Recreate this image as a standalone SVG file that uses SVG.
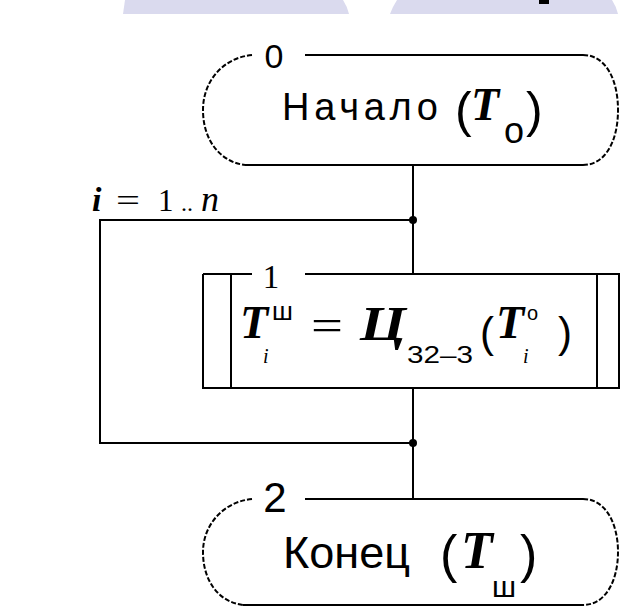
<svg xmlns="http://www.w3.org/2000/svg" width="621" height="612" viewBox="0 0 621 612">
<style>
.ln{fill:none;stroke:#000;stroke-width:2}
.arc{fill:none;stroke:#000;stroke-width:2;stroke-dasharray:5 2}
.sans{font-family:"Liberation Sans","DejaVu Sans",sans-serif;fill:#000}
.ser{font-family:"Liberation Serif","DejaVu Serif",serif;fill:#000}
.bi{font-family:"Liberation Serif","DejaVu Serif",serif;font-weight:bold;font-style:italic;fill:#000}
.it{font-family:"Liberation Serif","DejaVu Serif",serif;font-style:italic;fill:#000}
</style>
<rect width="621" height="612" fill="#fff"/>
<g id="background">
<path d="M125,0 L343,0 Q347,6 349,14 L123,14 Z" fill="#dadaee"/>
<path d="M397,0 L612,0 Q616,6 618,14 L390,14 Q393,6 397,0 Z" fill="#dadaee"/>
<rect x="539" y="0" width="10" height="4" fill="#000"/>
</g>
<g id="connectors">
<path class="ln" d="M413,165 V274"/>
<path class="ln" d="M413,388 V499"/>
<path class="ln" d="M413,220 H100 V443 H413"/>
<circle cx="413" cy="220" r="4" fill="#000"/>
<circle cx="413" cy="443" r="4" fill="#000"/>
<text class="bi" x="92" y="211" font-size="34">i</text>
<text class="ser" x="116" y="211" font-size="31" textLength="24" lengthAdjust="spacingAndGlyphs">=</text>
<text class="ser" x="158" y="211" font-size="31">1</text>
<text class="ser" x="181" y="211" font-size="24">..</text>
<text class="it" x="201" y="211" font-size="36">n</text>
</g>
<g id="node0">
<path class="ln" d="M305,55 H583 M583,165 H245"/>
<path class="arc" d="M583,55 C606,55 618,80 618,110 C618,140 606,165 583,165"/>
<path class="arc" d="M252,55 C222,58 203,82 203,110 C203,140 220,162 245,165"/>
<text class="sans" x="274" y="68" font-size="34" text-anchor="middle">0</text>
<text class="sans" x="282" y="120" font-size="38" textLength="156" lengthAdjust="spacing">Начало</text>
<text class="sans" x="455" y="127" font-size="50">(</text>
<text class="bi" x="471" y="120" font-size="46">T</text>
<text class="sans" x="504" y="143" font-size="36">о</text>
<text class="sans" x="526" y="127" font-size="50">)</text>
</g>
<g id="node1">
<path class="ln" d="M203,274 V388 H619 V274 H305 M252,274 H203 M231,274 V388 M597,274 V388"/>
<text class="ser" x="271" y="288" font-size="33" text-anchor="middle">1</text>
<text class="bi" x="240" y="338" font-size="46">T</text>
<text class="it" x="263" y="363" font-size="20">i</text>
<text class="sans" x="272" y="320" font-size="26">ш</text>
<text class="ser" x="311" y="340" font-size="44" textLength="32" lengthAdjust="spacingAndGlyphs">=</text>
<text class="bi" x="360" y="340" font-size="48" textLength="46" lengthAdjust="spacingAndGlyphs">Ц</text>
<text class="sans" x="407" y="363" font-size="24" textLength="66" lengthAdjust="spacingAndGlyphs">32–3</text>
<text class="sans" x="480" y="347" font-size="42">(</text>
<text class="bi" x="496" y="338" font-size="46">T</text>
<text class="it" x="523" y="363" font-size="20">i</text>
<text class="sans" x="527" y="320" font-size="20">о</text>
<text class="sans" x="558" y="347" font-size="42">)</text>
</g>
<g id="node2">
<path class="ln" d="M305,499 H583 M583,605 H243"/>
<path class="arc" d="M583,499 C606,499 618,524 618,552 C618,580 606,605 583,605"/>
<path class="arc" d="M252,499 C222,502 203,526 203,552 C203,580 218,602 243,605"/>
<text class="sans" x="275" y="512" font-size="42" text-anchor="middle">2</text>
<text class="sans" x="283" y="568" font-size="45" textLength="127" lengthAdjust="spacingAndGlyphs">Конец</text>
<text class="sans" x="440" y="572" font-size="52">(</text>
<text class="bi" x="461" y="568" font-size="52">T</text>
<text class="sans" x="492" y="597" font-size="30">ш</text>
<text class="sans" x="520" y="572" font-size="52">)</text>
</g>
</svg>
